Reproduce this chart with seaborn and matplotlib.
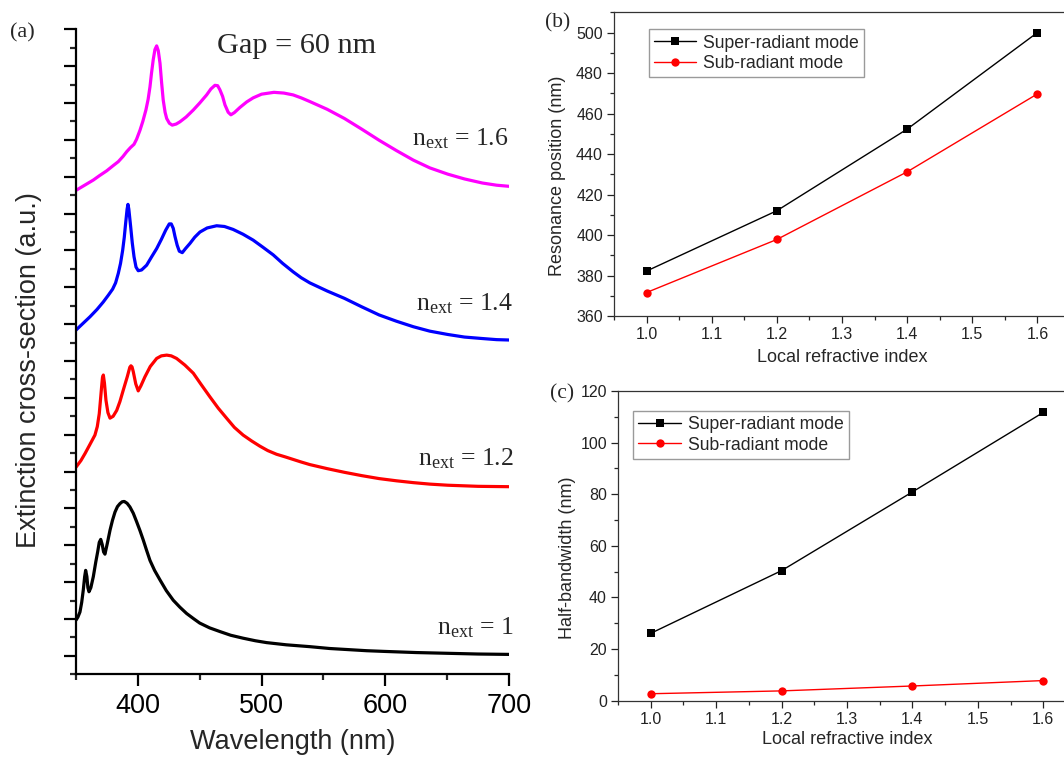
import numpy as np
import pandas as pd
import matplotlib
matplotlib.use("Agg")
import matplotlib.pyplot as plt
import seaborn as sns
from matplotlib.ticker import MultipleLocator, FormatStrFormatter

# ---------------- data: panel (a) extinction spectra ----------------
wl_16 = [350, 357, 364, 369, 374.8, 380, 384.2, 388, 391, 394, 396.9, 399, 401.7, 404, 406.5, 408.3,
         409.8, 411, 412.4, 413.8, 415.2, 416.5, 417.9, 419.2, 420.5, 422, 423.3, 425.5, 427.8, 431,
         434, 439, 444.8, 450, 455.6, 459, 462.3, 464.5, 466.3, 468.5, 470.4, 473, 475.2, 478, 482.5,
         488, 493.2, 500, 510, 518, 525.5, 532, 539, 553, 567, 581, 595, 609, 622.7, 636, 650.5,
         664, 678.4, 690, 700]
ext_16 = [12.63, 12.77, 12.91, 13.03, 13.16, 13.30, 13.41, 13.55, 13.68, 13.79, 13.88, 14.02, 14.26,
          14.50, 14.81, 15.10, 15.44, 15.80, 16.17, 16.45, 16.55, 16.42, 16.08, 15.55, 15.08, 14.75,
          14.58, 14.45, 14.40, 14.43, 14.49, 14.62, 14.81, 15.00, 15.22, 15.38, 15.48, 15.47, 15.36,
          15.18, 14.95, 14.75, 14.68, 14.74, 14.88, 15.03, 15.14, 15.24, 15.29, 15.27, 15.22, 15.14,
          15.04, 14.83, 14.58, 14.29, 13.99, 13.71, 13.45, 13.24, 13.07, 12.94, 12.83, 12.77, 12.74]

wl_14 = [350, 355, 361.3, 367, 372, 376, 379.6, 382, 384.2, 386, 387.7, 389, 390.1, 391.3, 392, 392.7,
         394.2, 395.5, 396.9, 398.5, 400.3, 403, 407.1, 411, 415.2, 419, 422.5, 425.4, 427, 428.6,
         430, 431.8, 433.5, 435.9, 438.5, 442.1, 446, 450.2, 456, 463.7, 470, 477, 485, 493.2, 501,
         509.4, 517, 525.5, 532, 539, 553, 567, 581, 595, 609, 622.7, 636, 650.5, 664, 678.4, 690, 700]
ext_14 = [8.84, 9.00, 9.20, 9.40, 9.60, 9.78, 9.95, 10.12, 10.38, 10.65, 11.00, 11.35, 11.73, 12.12,
          12.25, 12.12, 11.64, 11.20, 10.83, 10.55, 10.45, 10.47, 10.60, 10.82, 11.05, 11.30, 11.55,
          11.72, 11.72, 11.60, 11.38, 11.14, 10.98, 10.94, 11.05, 11.19, 11.36, 11.50, 11.61, 11.67,
          11.65, 11.57, 11.44, 11.28, 11.09, 10.88, 10.65, 10.42, 10.26, 10.12, 9.90, 9.70, 9.47,
          9.25, 9.08, 8.93, 8.81, 8.72, 8.65, 8.61, 8.58, 8.57]

wl_12 = [350, 354, 357.3, 361, 365.3, 367.2, 368.8, 369.8, 370.7, 371.4, 372.1, 373, 374.2, 375.8,
         377.5, 380, 382.9, 385.5, 388.2, 391.5, 393.5, 394.4, 395.3, 396.3, 398.3, 400.3, 402.5,
         405.7, 410, 415.2, 419, 423.3, 427, 431.3, 438, 444.8, 451, 458.2, 465, 471.7, 478, 485.1,
         492, 498.6, 505, 512.1, 519, 525.5, 532, 539, 553, 567, 581, 595, 609, 622.7, 636, 650.5,
         675, 700]
ext_12 = [5.12, 5.30, 5.49, 5.72, 5.99, 6.22, 6.57, 6.95, 7.30, 7.55, 7.62, 7.40, 6.94, 6.60,
          6.45, 6.50, 6.66, 6.90, 7.21, 7.58, 7.83, 7.87, 7.84, 7.71, 7.38, 7.19, 7.33,
          7.57, 7.85, 8.07, 8.14, 8.16, 8.14, 8.07, 7.89, 7.67, 7.37, 7.03, 6.72, 6.45, 6.20, 5.99,
          5.83, 5.69, 5.57, 5.47, 5.40, 5.33, 5.26, 5.19, 5.08, 4.98, 4.89, 4.81, 4.75, 4.70, 4.66,
          4.63, 4.60, 4.59]

wl_10 = [350, 351.5, 353.2, 354.6, 355.9, 357, 357.8, 358.8, 359.6, 360.5, 362, 364, 366, 367.5,
         368.8, 370, 371.2, 372.3, 373.4, 375.3, 377.5, 379.5, 381.5, 383.5, 385.5, 387.3, 389,
         391.3, 393.6, 396.3, 399, 401.7, 404.4, 407, 409.8, 413.5, 417.9, 423, 428.6, 434, 439.4,
         445, 450, 458, 466.3, 475, 485, 495, 504, 520, 539, 555, 570, 585, 600, 625, 650, 675, 700]
ext_10 = [0.97, 1.05, 1.19, 1.45, 1.79, 2.15, 2.32, 2.15, 1.85, 1.74, 1.85, 2.15, 2.55, 2.82,
          3.08, 3.16, 3.02, 2.82, 2.76, 3.05, 3.41, 3.68, 3.90, 4.05, 4.13, 4.18, 4.19,
          4.14, 4.04, 3.87, 3.64, 3.40, 3.14, 2.87, 2.59, 2.32, 2.06, 1.77, 1.51, 1.32, 1.15,
          1.01, 0.89, 0.76, 0.66, 0.56, 0.48, 0.41, 0.36, 0.30, 0.25, 0.20, 0.17, 0.14, 0.12, 0.09,
          0.07, 0.05, 0.04]

curve_labels = ["1.6", "1.4", "1.2", "1"]
curve_colors = ["#FF00FF", "#0000FF", "#FF0000", "#000000"]

# ---------------- data: panels (b) and (c) ----------------
n_index = [1.0, 1.2, 1.4, 1.6]
res_super = [382.2, 412.0, 452.3, 500.0]
res_sub = [371.6, 397.8, 431.2, 469.7]
bw_super = [26.1, 50.4, 80.9, 111.7]
bw_sub = [2.7, 3.8, 5.7, 7.8]
legend_labels = ["Super-radiant mode", "Sub-radiant mode"]

# ---------------- style ----------------
sns.set_theme(style="ticks")
plt.rcParams["font.family"] = ["Liberation Sans", "DejaVu Sans"]
plt.rcParams["mathtext.fontset"] = "custom"
plt.rcParams["mathtext.rm"] = "Liberation Serif"
plt.rcParams["mathtext.it"] = "Liberation Serif:italic"
plt.rcParams["axes.edgecolor"] = "black"
SERIF = ["Liberation Serif", "DejaVu Serif"]

W, H = 1064, 757
fig = plt.figure(figsize=(W / 100, H / 100), dpi=100)


def fx(px):
    return px / W


def fy(py):
    return 1 - py / H


# ---------------- panel (a) ----------------
axa = fig.add_axes([fx(76), fy(674.3), (509 - 76) / W, (674.3 - 29.3) / H])
spectra = [(wl_16, ext_16), (wl_14, ext_14), (wl_12, ext_12), (wl_10, ext_10)]
for (wl, ex), col in zip(spectra, curve_colors):
    df = pd.DataFrame({"wl": wl, "ext": ex})
    line_ax = sns.lineplot(data=df, x="wl", y="ext", ax=axa, color=col, linewidth=2.3,
                           estimator=None, sort=False, legend=False)
for ln in axa.get_lines():
    ln.set_solid_joinstyle("round")
axa.set_xlim(350, 700)
axa.set_ylim(-0.5, 17)
axa.xaxis.set_major_locator(MultipleLocator(100))
axa.xaxis.set_minor_locator(MultipleLocator(50))
axa.yaxis.set_major_locator(MultipleLocator(1))
axa.yaxis.set_minor_locator(MultipleLocator(0.5))
axa.set_yticklabels([])
for s in ["top", "right"]:
    axa.spines[s].set_visible(False)
for s in ["left", "bottom"]:
    axa.spines[s].set_linewidth(1.6)
axa.tick_params(which="major", direction="out", length=8.5, width=1.6, labelsize=19.5, pad=5,
                colors="black")
axa.tick_params(which="minor", direction="out", length=4.2, width=1.6)
axa.set_xlabel("Wavelength (nm)", fontsize=19.5)
axa.set_ylabel("Extinction cross-section (a.u.)", fontsize=19.5)
axa.xaxis.set_label_coords(0.5, (674.3 - 729) / 645)
axa.yaxis.set_label_coords((42 - 76) / 433, (674.3 - 370) / 645)

fig.text(fx(22.6), fy(37), "(a)", fontsize=16, family=SERIF, ha="center", va="baseline")
fig.text(fx(296.6), fy(53), "Gap = 60 nm", fontsize=21.8, family=SERIF, ha="center", va="baseline")
label_pos = [(508.3, 145.7), (512.5, 310), (513.5, 465), (513.5, 634)]
for lab, (xr, yb) in zip(curve_labels, label_pos):
    fig.text(fx(xr), fy(yb), r"n$_{\mathrm{ext}}$ = " + lab, fontsize=18.5, family=SERIF,
             ha="right", va="baseline")


# ---------------- panels (b) and (c) ----------------
def small_panel(rect, y_super, y_sub, ylim, ylabel, ylab_coords, leg_anchor):
    ax = fig.add_axes(rect)
    df = pd.DataFrame({"n": n_index * 2, "v": y_super + y_sub,
                       "mode": [legend_labels[0]] * 4 + [legend_labels[1]] * 4})
    sns.lineplot(data=df[df["mode"] == legend_labels[0]], x="n", y="v", ax=ax, color="black",
                 linewidth=1.0, marker="s", markersize=5.5, markeredgewidth=0,
                 label=legend_labels[0], estimator=None)
    sns.lineplot(data=df[df["mode"] == legend_labels[1]], x="n", y="v", ax=ax, color="#FF0000",
                 linewidth=1.0, marker="o", markersize=6, markeredgewidth=0,
                 label=legend_labels[1], estimator=None)
    ax.set_xlim(0.95, 1.65)
    ax.set_ylim(*ylim)
    ax.xaxis.set_major_locator(MultipleLocator(0.1))
    ax.xaxis.set_minor_locator(MultipleLocator(0.05))
    ax.xaxis.set_major_formatter(FormatStrFormatter("%.1f"))
    ax.yaxis.set_major_locator(MultipleLocator(20))
    ax.yaxis.set_minor_locator(MultipleLocator(10))
    for s in ax.spines.values():
        s.set_linewidth(0.9)
        s.set_color("#333333")
    ax.tick_params(which="major", direction="out", length=5, width=0.9, labelsize=11.5,
                   colors="#222222", pad=3)
    ax.tick_params(which="minor", direction="out", length=3, width=0.9)
    ax.set_xlabel("Local refractive index", fontsize=13)
    ax.set_ylabel(ylabel, fontsize=13)
    ax.yaxis.set_label_coords(*ylab_coords)
    leg = ax.legend(loc="upper left", bbox_to_anchor=leg_anchor, borderaxespad=0, fontsize=12.7,
                    frameon=True, fancybox=False, framealpha=1, edgecolor="#9a9a9a",
                    handlelength=2.4, labelspacing=0.2, borderpad=0.3, handletextpad=0.4)
    leg.get_frame().set_linewidth(1.0)
    return ax


axb = small_panel([fx(614), fy(316), (1070 - 614) / W, (316 - 12.3) / H], res_super, res_sub,
                  (360, 510), "Resonance position (nm)", ((566 - 614) / 456, 0.461),
                  ((648.5 - 614) / 456, (316 - 29.3) / 303.7))
axb.xaxis.set_label_coords(0.5, (316 - 349) / 303.7)

axc = small_panel([fx(618), fy(700.7), (1076 - 618) / W, (700.7 - 391) / H], bw_super, bw_sub,
                  (0, 120), "Half-bandwidth (nm)", ((576 - 618) / 458, 0.461),
                  ((633.2 - 618) / 458, (700.7 - 410.7) / 309.7))
axc.xaxis.set_label_coords(0.5, (700.7 - 731) / 309.7)

fig.text(fx(557.7), fy(27), "(b)", fontsize=15.5, family=SERIF, ha="center", va="baseline")
fig.text(fx(562.3), fy(398), "(c)", fontsize=15.5, family=SERIF, ha="center", va="baseline")

fig.savefig("out.png", dpi=100)
